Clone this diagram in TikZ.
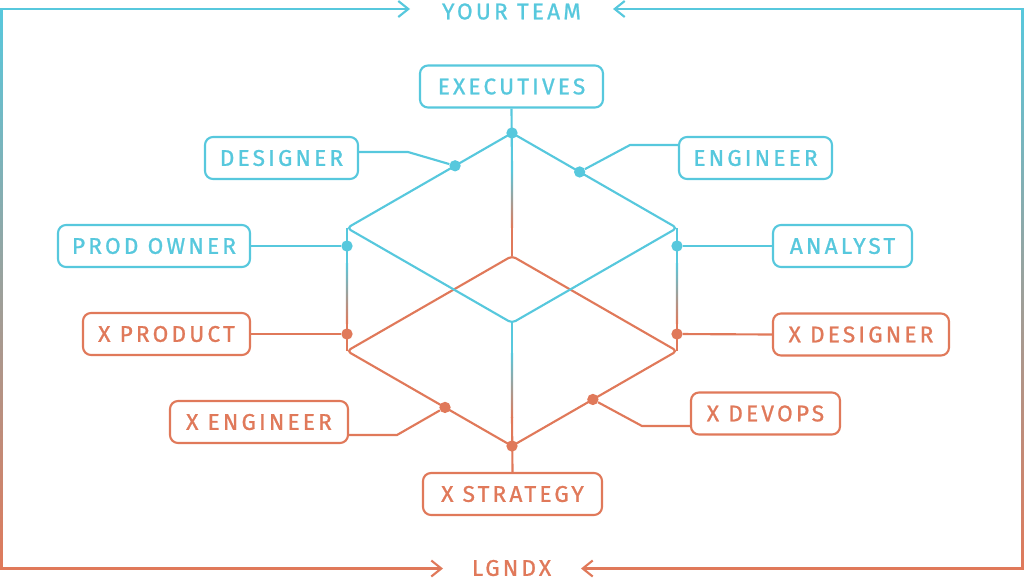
\documentclass[tikz,border=0pt]{standalone}
\usepackage{fontspec}
\setmainfont{Fira Sans}[LetterSpace=14,FakeBold=1]
\usetikzlibrary{arrows.meta,calc}
\definecolor{cblue}{RGB}{87,200,221}
\definecolor{corange}{RGB}{224,121,90}
\begin{document}
\begin{tikzpicture}[x=0.75pt,y=-0.75pt,
  ln/.style={line width=1.6pt},
  bln/.style={ln,draw=cblue},
  oln/.style={ln,draw=corange},
  box/.style={rounded corners=6pt,line width=1.6pt,fill=white,minimum height=31.5pt,inner sep=0pt,font=\fontsize{17}{19}\selectfont},
  bbox/.style={box,draw=cblue,text=cblue},
  obox/.style={box,draw=corange,text=corange},
  dotb/.style={circle,fill=cblue,inner sep=0pt,minimum size=8.5pt},
  doto/.style={circle,fill=corange,inner sep=0pt,minimum size=8.5pt},
  grad/.style={top color=cblue,bottom color=corange},
  barb/.style={-{Straight Barb[length=7.5pt,width=12pt]}},
  title/.style={inner sep=0pt,font=\fontsize{17}{19}\selectfont}
]
\useasboundingbox (0,0) rectangle (1024,579);

% ---------- frame ----------
\shade[grad] (0.4,8) rectangle (2.6,569.6);
\shade[grad] (1021.4,8) rectangle (1023.6,569.6);
\node[title,text=cblue] (top) at (511.5,11.5) {YOUR TEAM};
\node[title,text=corange] (bot) at (511.5,568) {LGNDX};
\coordinate (ta0) at (0.4,9);
\coordinate (ta3) at (1023.6,9);
\coordinate (ba0) at (0.4,568.5);
\coordinate (ba3) at (1023.6,568.5);
\coordinate (ta1) at (410,9);
\coordinate (ta2) at (613,9);
\coordinate (ba1) at (443,568.5);
\coordinate (ba2) at (581,568.5);
\draw[bln,barb] (ta0) -- (ta1);
\draw[bln,barb] (ta3) -- (ta2);
\draw[oln,barb] (ba0) -- (ba1);
\draw[oln,barb] (ba3) -- (ba2);

% ---------- cube vertices ----------
\coordinate (BT) at (512,133);
\coordinate (BL) at (347,228);
\coordinate (BR) at (677,228);
\coordinate (BB) at (512,323);
\coordinate (OT) at (512,256);
\coordinate (OL) at (347,351);
\coordinate (OR) at (677,351);
\coordinate (OB) at (512,446);

% ---------- boxes ----------
\node[bbox,minimum width=137.25pt] (exe) at (511.5,86.5) {EXECUTIVES};
\node[bbox,minimum width=114.75pt] (des) at (281.5,158) {DESIGNER};
\node[bbox,minimum width=114.75pt] (eng) at (755.5,158) {ENGINEER};
\node[bbox,minimum width=144pt] (po) at (154,246) {PROD OWNER};
\node[bbox,minimum width=104.25pt] (an) at (842.5,246) {ANALYST};
\node[obox,minimum width=125.25pt] (xp) at (166.5,334) {X PRODUCT};
\node[obox,minimum width=132pt] (xd) at (861,334.5) {X DESIGNER};
\node[obox,minimum width=133.5pt] (xe) at (259,422) {X ENGINEER};
\node[obox,minimum width=111.75pt] (xdv) at (765.5,413.5) {X DEVOPS};
\node[obox,minimum width=134.25pt] (xs) at (512.5,494) {X STRATEGY};

% ---------- rhombi ----------
\draw[oln,rounded corners=3pt] (OT) -- (OR) -- (OB) -- (OL) -- cycle;
\draw[bln,rounded corners=3pt] (BT) -- (BR) -- (BB) -- (BL) -- cycle;

% ---------- vertical gradient lines ----------
\coordinate (c1) at (512,170); \coordinate (c2) at (512,227);
\draw[bln] (exe.south) -- (c1);
\shade[grad] ($(c1)+(-1.07,0)$) rectangle ($(c2)+(1.07,0)$);
\draw[oln] (c2) -- (OT);

\coordinate (l1) at (347,263); \coordinate (l2) at (347,323);
\draw[bln] (BL) -- (l1);
\shade[grad] ($(l1)+(-1.07,0)$) rectangle ($(l2)+(1.07,0)$);
\draw[oln] (l2) -- (OL);

\coordinate (r1) at (677,263); \coordinate (r2) at (677,323);
\draw[bln] (BR) -- (r1);
\shade[grad] ($(r1)+(-1.07,0)$) rectangle ($(r2)+(1.07,0)$);
\draw[oln] (r2) -- (OR);

\coordinate (m1) at (512,353); \coordinate (m2) at (512,417);
\draw[bln] (BB) -- (m1);
\shade[grad] ($(m1)+(-1.07,0)$) rectangle ($(m2)+(1.07,0)$);
\draw[oln] (m2) -- (xs.north);

% ---------- dots ----------
\node[dotb] (dexe) at (BT) {};
\node[dotb] (ddes) at ($(BT)!0.345!(BL)$) {};
\node[dotb] (deng) at ($(BT)!0.41!(BR)$) {};
\node[dotb] (dpo) at (347,246) {};
\node[dotb] (dan) at (677,246) {};
\node[doto] (dxp) at (347,334) {};
\node[doto] (dxd) at (677,334) {};
\node[doto] (dxe) at ($(OL)!0.594!(OB)$) {};
\node[doto] (dxdv) at ($(OB)!0.49!(OR)$) {};
\node[doto] (dxs) at (OB) {};

% ---------- connectors ----------
\coordinate (desb) at (408,152);
\draw[bln] ($(des.east)+(0,-6)$) -- (desb) -- (ddes);
\coordinate (engb) at (630,145);
\draw[bln] ($(eng.west)+(0,-13)$) -- (engb) -- (deng);
\draw[bln] (po.east) -- (dpo);
\draw[bln] (an.west) -- (dan);
\draw[oln] (xp.east) -- (dxp);
\draw[oln] (xd.west) -- (dxd);
\coordinate (xeb) at (397,435);
\draw[oln] ($(xe.east)+(0,13)$) -- (xeb) -- (dxe);
\coordinate (xdvb) at (642,426);
\draw[oln] ($(xdv.west)+(0,12.5)$) -- (xdvb) -- (dxdv);
\end{tikzpicture}
\end{document}
